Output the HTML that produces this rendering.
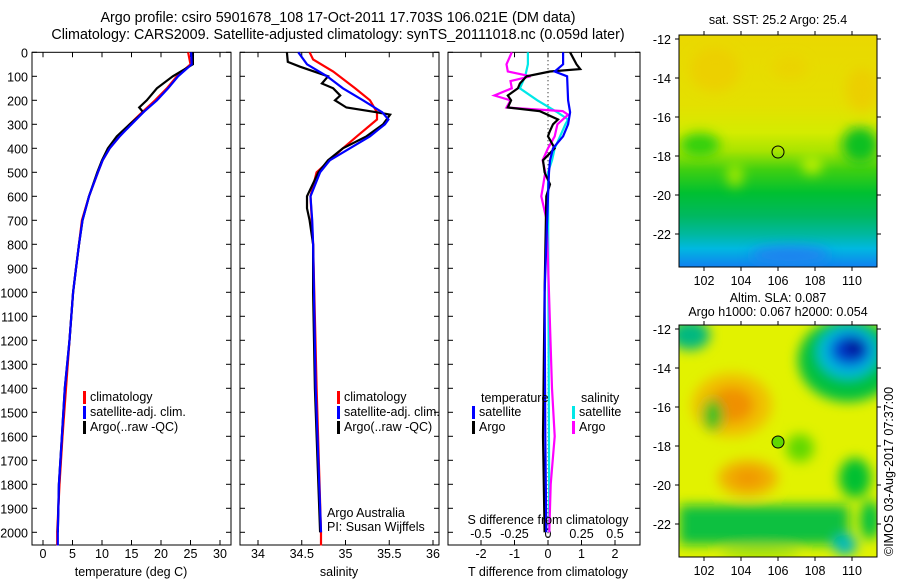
<!DOCTYPE html>
<html><head><meta charset="utf-8"><style>
body{margin:0;background:#fff}
svg text{font-family:"Liberation Sans",sans-serif;font-size:12.5px;fill:#000}
</style></head><body>
<svg id="c" width="900" height="580" viewBox="0 0 900 580">
<defs>
<linearGradient id="sstg" x1="0" y1="0" x2="0" y2="1">
<stop offset="0" stop-color="#ead800"/><stop offset="0.3" stop-color="#e4e000"/><stop offset="0.42" stop-color="#d4ec00"/><stop offset="0.5" stop-color="#a8e400"/><stop offset="0.58" stop-color="#40d010"/><stop offset="0.68" stop-color="#00c030"/><stop offset="0.78" stop-color="#00b860"/><stop offset="0.86" stop-color="#00b8a0"/><stop offset="0.92" stop-color="#00b8e0"/><stop offset="1" stop-color="#1080f0"/>
</linearGradient>
<filter id="bl" x="-20%" y="-20%" width="140%" height="140%"><feGaussianBlur stdDeviation="6"/></filter>
<clipPath id="m1"><rect x="679" y="35" width="198" height="232"/></clipPath>
<clipPath id="m2"><rect x="679" y="325" width="198" height="232"/></clipPath>
</defs>
<g>
<text x="338" y="22" text-anchor="middle" style="font-size:14.3px">Argo profile: csiro 5901678_108 17-Oct-2011 17.703S 106.021E (DM data)</text>
<text x="338" y="39" text-anchor="middle" style="font-size:14.3px">Climatology: CARS2009. Satellite-adjusted climatology: synTS_20111018.nc (0.059d later)</text>
</g>
<g id="plots"></g>
<!-- SST map -->
<g clip-path="url(#m1)">
<rect x="679" y="35" width="198" height="232" fill="url(#sstg)"/>
<g filter="url(#bl)">
<ellipse cx="715" cy="70" rx="25" ry="22" fill="#f0c800" opacity="0.6"/>
<ellipse cx="862" cy="90" rx="16" ry="22" fill="#f0c400" opacity="0.6"/>
<ellipse cx="790" cy="68" rx="18" ry="12" fill="#f0c800" opacity="0.4"/>
<ellipse cx="700" cy="145" rx="20" ry="12" fill="#30d010"/>
<ellipse cx="860" cy="145" rx="18" ry="18" fill="#10c020"/>
<ellipse cx="812" cy="165" rx="10" ry="9" fill="#c0f000"/>
<ellipse cx="735" cy="175" rx="8" ry="12" fill="#a0e800"/>
<ellipse cx="790" cy="255" rx="40" ry="8" fill="#2080f0"/>
</g>
<circle cx="778" cy="152" r="6" fill="none" stroke="#000"/>
</g>
<rect x="679" y="35" width="198" height="232" fill="none" stroke="#000"/>
<!-- SLA map -->
<g clip-path="url(#m2)">
<rect x="679" y="325" width="198" height="232" fill="#e2f200"/>
<g filter="url(#bl)">
<ellipse cx="732" cy="405" rx="40" ry="32" fill="#f0c000"/>
<ellipse cx="732" cy="405" rx="22" ry="18" fill="#f09000"/>
<ellipse cx="848" cy="360" rx="50" ry="42" fill="#00c040"/>
<ellipse cx="848" cy="352" rx="30" ry="26" fill="#00b8e0"/>
<ellipse cx="850" cy="350" rx="20" ry="16" fill="#0040d0"/>
<ellipse cx="854" cy="348" rx="10" ry="8" fill="#001090"/>
<ellipse cx="690" cy="335" rx="20" ry="15" fill="#00b880"/>
<ellipse cx="748" cy="478" rx="30" ry="18" fill="#f0b000"/>
<ellipse cx="748" cy="478" rx="15" ry="9" fill="#f09800"/>
<ellipse cx="713" cy="415" rx="10" ry="16" fill="#20c020"/>
<ellipse cx="800" cy="448" rx="14" ry="14" fill="#60d800"/>
<ellipse cx="855" cy="478" rx="16" ry="20" fill="#00c030"/>
<ellipse cx="870" cy="520" rx="10" ry="20" fill="#00c040"/>
<rect x="679" y="505" width="170" height="40" fill="#10c040"/>
<ellipse cx="845" cy="545" rx="12" ry="10" fill="#00b8c0"/>
<ellipse cx="760" cy="553" rx="40" ry="6" fill="#a0e000"/>
</g>
<circle cx="778" cy="442" r="6" fill="#60d800" stroke="#000"/>
</g>
<rect x="679" y="325" width="198" height="232" fill="none" stroke="#000"/>
<text x="778" y="24" text-anchor="middle">sat. SST: 25.2 Argo: 25.4</text>
<text x="778" y="302" text-anchor="middle">Altim. SLA: 0.087</text>
<text x="778" y="316" text-anchor="middle">Argo h1000: 0.067 h2000: 0.054</text>
<text transform="translate(893,556) rotate(-90)">©IMOS 03-Aug-2017 07:37:00</text>
<g id="maps"></g>
</svg>
<script>
const depthTicks=[0,100,200,300,400,500,600,700,800,900,1000,1100,1200,1300,1400,1500,1600,1700,1800,1900,2000];
const tempTicks=[0,5,10,15,20,25,30];
const salTicks=[34,34.5,35,35.5,36];
const tdTicks=[-2,-1,0,1,2];
const sdTickLabels=["-0.5","-0.25","0","0.25","0.5"];
const sdTicks=[-0.5,-0.25,0,0.25,0.5];
const lonTicks=[102,104,106,108,110];
const latTicks=[-12,-14,-16,-18,-20,-22];

const tClimD=[0,50,100,150,200,250,300,350,400,450,500,600,700,800,900,1000,1200,1400,1600,1800,2000,2055];
const tClim=[24.6,25,22.7,21,19,16.8,14.7,13,11.3,10.1,9.3,7.8,6.6,6.1,5.6,5.1,4.5,3.9,3.3,2.8,2.4,2.4];
const tSat=[25.1,25.2,22.9,21.2,19.3,17,15,13,11.3,10.1,9.3,7.8,6.7,6.1,5.6,5.1,4.5,3.7,3.2,2.7,2.5,2.5];
const tArgoD=[0,50,100,150,200,230,250,300,350,400,450,500,600,700,800,900,1000,1200,1400,1600,1800,2000];
const tArgo=[25.4,25.4,22,19.3,17.6,16.3,17,14.7,12.5,11,10,9.2,7.8,6.7,6.1,5.6,5.1,4.5,3.7,3.2,2.7,2.5];

const sClimD=[0,30,80,150,200,250,280,350,400,500,600,800,1400,2000,2055];
const sClim=[34.59,34.63,34.86,35.11,35.28,35.36,35.36,35.13,34.97,34.67,34.6,34.63,34.67,34.72,34.72];
const sSatD=[0,50,100,150,200,250,280,300,350,400,450,500,600,700,800,1400,2000];
const sSat=[34.46,34.56,34.79,34.97,35.2,35.42,35.49,35.45,35.28,35.05,34.82,34.71,34.6,34.62,34.63,34.66,34.72];
const sArgoD=[0,40,60,100,130,150,180,200,230,250,260,300,350,400,450,500,600,650,700,800,1000,1400,2000];
const sArgo=[34.33,34.34,34.48,34.8,34.73,34.86,34.94,34.88,35.01,35.36,35.51,35.43,35.24,34.97,34.8,34.69,34.56,34.56,34.59,34.63,34.63,34.65,34.71];

const tdSatD=[0,50,80,100,200,250,300,350,400,450,500,600,1000,1600,2000];
const tdSat=[0.45,0.45,0.2,0.57,0.6,0.66,0.6,0.45,0.15,0.06,0.03,0,-0.1,-0.08,-0.05];
const tdArgoD=[0,50,70,80,100,130,150,180,200,230,245,280,300,330,350,400,450,500,550,600,1000,1600,2000];
const tdArgo=[0.66,0.85,0.96,0.06,-0.64,-0.84,-0.9,-1.2,-1.1,-1.2,-0.25,0.3,0.15,0.05,0,0.2,-0.15,-0.1,0.06,-0.05,-0.1,-0.15,-0.1];
const sdSatD=[0,50,100,150,200,250,280,300,350,400,450,500,2000];
const sdSat=[-0.15,-0.15,-0.17,-0.21,-0.08,0.07,0.15,0.13,0.09,0.05,0.03,0,0.01];
const sdArgoD=[0,50,80,100,120,150,180,200,230,245,260,300,350,400,450,500,600,700,1400,1600,1800,2000];
const sdArgo=[-0.27,-0.31,-0.3,-0.13,-0.28,-0.27,-0.4,-0.28,-0.31,0.11,0.15,0.07,0.05,0,-0.04,-0.02,-0.05,-0.01,0.03,0.05,0.02,0.01];

const NS='http://www.w3.org/2000/svg';
const g=document.getElementById('plots');
function mk(tag,at,parent){const e=document.createElementNS(NS,tag);for(const k in at)e.setAttribute(k,at[k]);(parent||g).appendChild(e);return e;}
const TOP=52.3,BOT=545;
const yD=d=>TOP+d*0.24;
const xT=v=>43+v*5.9;
const xS=v=>258+(v-34)*87.5;
const xTD=v=>548+v*33.5;
const xSD=v=>548+v*134;

function panel(x0,x1,name){
  const r=mk('rect',{x:x0,y:TOP,width:x1-x0,height:BOT-TOP,fill:'none',stroke:'#000'});
  
  
  depthTicks.forEach(d=>{mk('line',{x1:x0,x2:x0+5,y1:yD(d),y2:yD(d),stroke:'#000'});mk('line',{x1:x1,x2:x1-5,y1:yD(d),y2:yD(d),stroke:'#000'});});
}
function xticks(ticks,fx,labels,x0,x1,ly){
  ticks.forEach((t,i)=>{const x=fx(t);if(x<x0||x>x1)return;
    mk('line',{x1:x,x2:x,y1:BOT,y2:BOT-5,stroke:'#000'});mk('line',{x1:x,x2:x,y1:TOP,y2:TOP+5,stroke:'#000'});
    const tx=mk('text',{x:x,y:ly,'text-anchor':'middle'});tx.textContent=labels?labels[i]:String(t);
    
    });
}
function line(D,V,fx,col,name,w){
  const p=mk('polyline',{points:D.map((d,i)=>fx(V[i]).toFixed(1)+','+yD(d).toFixed(1)).join(' '),fill:'none',stroke:col,'stroke-width':w||2.2});
  
  
}
function txt(x,y,s,name,anchor){const t=mk('text',{x:x,y:y,'text-anchor':anchor||'start'});t.textContent=s;
  
  return t;}
function legend(x,y,col,s,name){mk('rect',{x:x,y:y-10,width:3,height:13,fill:col});txt(x+7,y,s,name);}

panel(32,231,'temperature-panel');
depthTicks.forEach(d=>txt(28,yD(d)+5,String(d),'depth-tick-label','end'));
xticks(tempTicks,xT,null,32,231,558);
line(tClimD,tClim,xT,'#f00','temp-climatology-line');
line(tArgoD,tArgo,xT,'#000','temp-argo-line');
line(tClimD,tSat,xT,'#00f','temp-satellite-line');
txt(131,576,'temperature (deg C)','temperature-axis-title','middle');
legend(83,401,'#f00','climatology','legend-climatology');
legend(83,416,'#00f','satellite-adj. clim.','legend-satellite');
legend(83,431,'#000','Argo(..raw -QC)','legend-argo');

panel(240,439,'salinity-panel');
xticks(salTicks,xS,null,240,439,558);
line(sClimD,sClim,xS,'#f00','sal-climatology-line');
line(sArgoD,sArgo,xS,'#000','sal-argo-line');
line(sSatD,sSat,xS,'#00f','sal-satellite-line');
txt(339,576,'salinity','salinity-axis-title','middle');
legend(337,401,'#f00','climatology','legend2-climatology');
legend(337,416,'#00f','satellite-adj. clim.','legend2-satellite');
legend(337,431,'#000','Argo(..raw -QC)','legend2-argo');
txt(327,517,'Argo Australia','credit-line-1');
txt(327,531,'PI: Susan Wijffels','credit-line-2');

panel(448,640,'difference-panel');
mk('line',{x1:548,x2:548,y1:TOP,y2:BOT,stroke:'#000','stroke-dasharray':'1,3'});
xticks(tdTicks,xTD,null,448,640,558);
sdTicks.forEach((t,i)=>{txt(xSD(t),538,sdTickLabels[i],'s-tick-label','middle');});
line(sdSatD,sdSat,xSD,'#00e8e8','s-diff-satellite-line');
line(sdArgoD,sdArgo,xSD,'#f0f','s-diff-argo-line');
line(tdArgoD,tdArgo,xTD,'#000','t-diff-argo-line');
line(tdSatD,tdSat,xTD,'#00f','t-diff-satellite-line');
txt(548,524,'S difference from climatology','s-diff-axis-title','middle');
txt(548,576,'T difference from climatology','t-diff-axis-title','middle');
txt(481,402,'temperature','legend3-temperature-header');
txt(581,402,'salinity','legend3-salinity-header');
legend(472,416,'#00f','satellite','legend3-t-satellite');
legend(472,431,'#000','Argo','legend3-t-argo');
legend(572,416,'#00e8e8','satellite','legend3-s-satellite');
legend(572,431,'#f0f','Argo','legend3-s-argo');

const m=document.getElementById('maps');
function mapAxes(top,bot,lat12){
  lonTicks.forEach(l=>{const x=704+(l-102)*18.5;
    mk('line',{x1:x,x2:x,y1:bot,y2:bot+4,stroke:'#000'},m);mk('line',{x1:x,x2:x,y1:top,y2:top-4,stroke:'#000'},m);
    const t=mk('text',{x:x,y:bot+18,'text-anchor':'middle'},m);t.textContent=String(l);
    
    });
  latTicks.forEach(l=>{const y=lat12+(-12-l)*19.5;
    mk('line',{x1:679,x2:675,y1:y,y2:y,stroke:'#000'},m);mk('line',{x1:877,x2:881,y1:y,y2:y,stroke:'#000'},m);
    const t=mk('text',{x:671,y:y+5,'text-anchor':'end'},m);t.textContent=String(l);
    
    });
}
mapAxes(35,267,39);
mapAxes(325,557,329);
</script>
</body></html>
